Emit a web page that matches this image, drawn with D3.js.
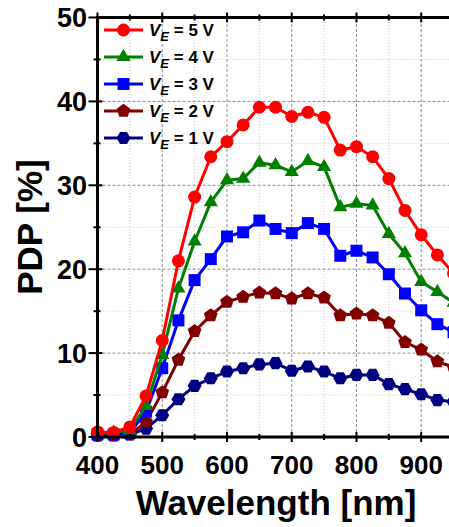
<!DOCTYPE html>
<html><head><meta charset="utf-8">
<script src="https://cdn.jsdelivr.net/npm/d3@7"></script>
<style>
html,body{margin:0;padding:0;background:#fff;overflow:hidden;}
text{font-family:"Liberation Sans",Arial,sans-serif;font-weight:bold;}
</style></head>
<body>
<svg id="chart" width="449" height="527"></svg>
<script>
const wavelengths = [400,425,450,475,500,525,550,575,600,625,650,675,700,725,750,775,800,825,850,875,900,925,950];
const pdp5V = [0.6,0.55,1.2,4.9,11.5,21.0,28.6,33.4,35.2,37.2,39.3,39.3,38.2,38.7,38.1,34.2,34.6,33.4,30.8,27.0,24.1,21.7,19.5];
const pdp4V = [0.4,0.5,0.8,3.7,9.8,17.7,23.3,28.0,30.6,30.8,32.7,32.4,31.6,32.9,32.2,27.4,27.8,27.6,24.2,21.9,18.5,17.3,16.0];
const pdp3V = [0.3,0.3,0.5,3.0,8.2,13.9,18.7,21.2,23.9,24.4,25.8,24.8,24.3,25.5,24.8,21.6,22.2,21.4,19.4,17.1,15.1,13.45,12.5];
const pdp2V = [0.2,0.2,0.3,1.8,5.3,9.2,12.6,14.5,16.1,16.7,17.2,17.1,16.5,17.1,16.6,14.5,14.7,14.5,13.6,11.3,10.4,9.0,8.3];
const pdp1V = [0.2,0.2,0.3,1.0,2.6,4.5,6.1,7.0,7.8,8.2,8.65,8.8,7.9,8.4,7.8,7.0,7.4,7.4,6.3,5.7,5.1,4.4,4.2];
const seriesNames = ["5","4","3","2","1"];
const xTicks = [400,500,600,700,800,900];
const yTicks = [0,10,20,30,40,50];

const series = [
  {v:"5", values:pdp5V, color:"#ff0000", shape:"circle"},
  {v:"4", values:pdp4V, color:"#008000", shape:"triangle"},
  {v:"3", values:pdp3V, color:"#0000ff", shape:"square"},
  {v:"2", values:pdp2V, color:"#800000", shape:"pentagon"},
  {v:"1", values:pdp1V, color:"#000080", shape:"hexagon"}
];

const svg = d3.select("#chart");
const x = d3.scaleLinear().domain([400,1000]).range([97.5, 97.5+600*0.6474]);
const y = d3.scaleLinear().domain([0,50]).range([437,17.5]);
const xR = x.range()[1];

// grid
const g = svg.append("g");
const minorX = d3.range(450,1000,100), minorY = d3.range(5,50,10);
const majorX = d3.range(500,1000,100), majorY = d3.range(10,50,10);
g.selectAll(".mnx").data(minorX).join("line").attr("x1",d=>x(d)).attr("x2",d=>x(d)).attr("y1",y(0)).attr("y2",y(50))
  .attr("stroke","#c8c8c8").attr("stroke-width",1).attr("stroke-dasharray","1,2");
g.selectAll(".mny").data(minorY).join("line").attr("y1",d=>y(d)).attr("y2",d=>y(d)).attr("x1",x(400)).attr("x2",xR)
  .attr("stroke","#c8c8c8").attr("stroke-width",1).attr("stroke-dasharray","1,2");
g.selectAll(".mjx").data(majorX).join("line").attr("x1",d=>x(d)).attr("x2",d=>x(d)).attr("y1",y(0)).attr("y2",y(50))
  .attr("stroke","#8c8c8c").attr("stroke-width",1).attr("stroke-dasharray","3,2");
g.selectAll(".mjy").data(majorY).join("line").attr("y1",d=>y(d)).attr("y2",d=>y(d)).attr("x1",x(400)).attr("x2",xR)
  .attr("stroke","#8c8c8c").attr("stroke-width",1).attr("stroke-dasharray","3,2");

// shapes
function polyPath(n, r, rot){
  const pts=[];
  for(let i=0;i<n;i++){const a=rot+i*2*Math.PI/n; pts.push([r*Math.cos(a), r*Math.sin(a)]);}
  return "M"+pts.map(p=>p[0].toFixed(2)+","+p[1].toFixed(2)).join("L")+"Z";
}
function shapePath(s){
  if(s==="circle") return d3.symbol(d3.symbolCircle, Math.PI*6.5*6.5)();
  if(s==="triangle") return polyPath(3, 8.2, -Math.PI/2);
  if(s==="square") return d3.symbol(d3.symbolSquare, 12*12)();
  if(s==="pentagon") return polyPath(5, 7.2, -Math.PI/2);
  if(s==="hexagon") return polyPath(6, 7.0, 0);
}

// data
const line = d3.line().x(d=>x(d[0])).y(d=>y(d[1]));
const drawOrder = series.slice().reverse();
drawOrder.forEach(s=>{
  const pts = wavelengths.map((w,i)=>[w, s.values[i]]);
  svg.append("path").datum(pts).attr("d",line).attr("fill","none").attr("stroke",s.color).attr("stroke-width",3).attr("stroke-linejoin","round");
  svg.append("g").selectAll("path").data(pts).join("path")
    .attr("transform",d=>`translate(${x(d[0])},${y(d[1])})`)
    .attr("d",shapePath(s.shape)).attr("fill",s.color);
});

// axes frame
const ax = svg.append("g");
ax.append("line").attr("x1",x(400)).attr("x2",x(400)).attr("y1",y(0)+1.5).attr("y2",y(50)-1.5).attr("stroke","#000").attr("stroke-width",3);
ax.append("line").attr("x1",x(400)-1.5).attr("x2",xR).attr("y1",y(0)).attr("y2",y(0)).attr("stroke","#000").attr("stroke-width",3);
ax.append("line").attr("x1",x(400)-1.5).attr("x2",xR).attr("y1",y(50)).attr("y2",y(50)).attr("stroke","#000").attr("stroke-width",3);

// ticks
const xAll = d3.range(400,1001,50);
ax.selectAll(".xt").data(xAll).join("line").attr("x1",d=>x(d)).attr("x2",d=>x(d))
  .attr("y1",d=>y(0)-(d%100===0?5:3)).attr("y2",d=>y(0)+(d%100===0?5:3)).attr("stroke","#000").attr("stroke-width",2);
ax.selectAll(".xt2").data(xAll).join("line").attr("x1",d=>x(d)).attr("x2",d=>x(d))
  .attr("y1",d=>y(50)-(d%100===0?5:3)).attr("y2",d=>y(50)+(d%100===0?5:3)).attr("stroke","#000").attr("stroke-width",2);
const yAll = d3.range(0,51,5);
ax.selectAll(".yt").data(yAll).join("line").attr("y1",d=>y(d)).attr("y2",d=>y(d))
  .attr("x1",d=>x(400)-(d%10===0?9:4)).attr("x2",d=>x(400)+(d%10===0?5:3)).attr("stroke","#000").attr("stroke-width",2);

// tick labels
ax.selectAll(".xl").data(xTicks).join("text").attr("x",d=>x(d)).attr("y",474).attr("text-anchor","middle")
  .attr("font-size",26).text(d=>d);
ax.selectAll(".yl").data(yTicks).join("text").attr("x",87).attr("y",d=>y(d)+9.5).attr("text-anchor","end")
  .attr("font-size",27).text(d=>d);

// titles
svg.append("text").attr("x",276).attr("y",515).attr("text-anchor","middle").attr("font-size",35).text("Wavelength [nm]");
svg.append("text").attr("transform","translate(42,227) rotate(-90)").attr("text-anchor","middle").attr("font-size",35).text("PDP [%]");

// legend
const leg = svg.append("g");
series.forEach((s,i)=>{
  const cy = 30 + i*27;
  leg.append("line").attr("x1",104).attr("x2",143).attr("y1",cy).attr("y2",cy).attr("stroke",s.color).attr("stroke-width",3);
  leg.append("path").attr("transform",`translate(123.5,${cy})`).attr("d",shapePath(s.shape)).attr("fill",s.color);
  const t = leg.append("text").attr("x",149).attr("y",cy+6).attr("font-size",17);
  t.append("tspan").attr("font-style","italic").text("V");
  t.append("tspan").attr("font-style","italic").attr("font-size",13).attr("dy",5).text("E");
  t.append("tspan").attr("dy",-5).text(` = ${s.v} V`);
});
</script>
</body></html>
